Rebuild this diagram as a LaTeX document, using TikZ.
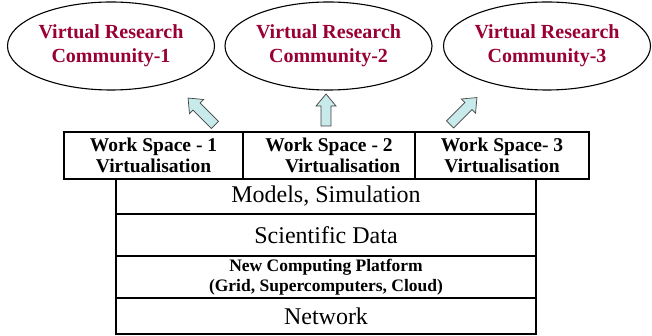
\documentclass[tikz,border=0pt]{standalone}
\usepackage{fontspec}
\setmainfont{Liberation Serif}
\usetikzlibrary{shapes.geometric, positioning, calc}
\definecolor{vrcred}{RGB}{153,0,51}
\definecolor{arrowcyan}{RGB}{200,234,234}

% block arrow pointing along +x, centred on #1, turned by #2, length #3
\newcommand{\blockarrow}[3]{
  \begin{scope}[shift={(#1)}, rotate=#2]
    \draw[uparrow] (-#3/2,-5) -- (#3/2-12,-5) -- (#3/2-12,-10) -- (#3/2,0)
      -- (#3/2-12,10) -- (#3/2-12,5) -- (-#3/2,5) -- cycle;
  \end{scope}
}

\begin{document}
\begin{tikzpicture}[x=1pt, y=-1pt, >=stealth]
  % --- STYLE DEFINITIONS ---
  \tikzstyle{community}=[ellipse, draw=black, line width=1.1pt, minimum width=207pt, minimum height=88pt, inner sep=0pt, align=center, text=vrcred, font=\rmfamily\fontsize{20}{24}\selectfont\bfseries]
  \tikzstyle{workspace}=[rectangle, draw=black, line width=1.1pt, outer sep=0pt, minimum height=47pt, inner sep=0pt, align=center, font=\rmfamily\fontsize{19.5}{21}\selectfont\bfseries]
  \tikzstyle{layer}=[rectangle, draw=black, line width=1.1pt, outer sep=0pt, minimum width=420pt, inner sep=0pt, align=center, font=\rmfamily\fontsize{24}{26}\selectfont]
  \tikzstyle{uparrow}=[draw=black!75, fill=arrowcyan, line width=0.7pt, line join=miter]

  % page frame
  \useasboundingbox (0,0) rectangle (652,336);

  % =================================================================
  % COMMUNITIES
  % =================================================================
  \node[community] (vrc1) at (111,46) {Virtual Research\\Community-1};
  \node[community] (vrc2) at (328.5,46) {Virtual Research\\Community-2};
  \node[community] (vrc3) at (547,46) {Virtual Research\\Community-3};

  % =================================================================
  % BLOCK ARROWS
  % =================================================================
  \blockarrow{201.5,111.5}{135}{38}
  \blockarrow{326,110}{90}{32}
  \blockarrow{463.5,111}{45}{38}

  % =================================================================
  % WORK SPACES
  % =================================================================
  \node[workspace, minimum width=179pt] (ws1) at (153.5,155.5) {Work Space - 1\\Virtualisation};
  \node[workspace, minimum width=172pt, right=0pt of ws1] (ws2) {Work Space - 2\\\hspace*{1.4em}Virtualisation};
  \node[workspace, minimum width=174pt, right=0pt of ws2] (ws3) {Work Space- 3\\Virtualisation};

  % =================================================================
  % LAYER STACK
  % =================================================================
  \node[layer, minimum height=35pt] (models) at (326,196.5) {Models, Simulation};
  \node[layer, minimum height=42pt, below=0pt of models] (data) {Scientific Data};
  \node[layer, minimum height=42pt, below=0pt of data, font=\rmfamily\fontsize{17.5}{20}\selectfont\bfseries] (platform) {New Computing Platform\\(Grid, Supercomputers, Cloud)};
  \node[layer, minimum height=36pt, below=0pt of platform] (network) {Network};

\end{tikzpicture}
\end{document}
